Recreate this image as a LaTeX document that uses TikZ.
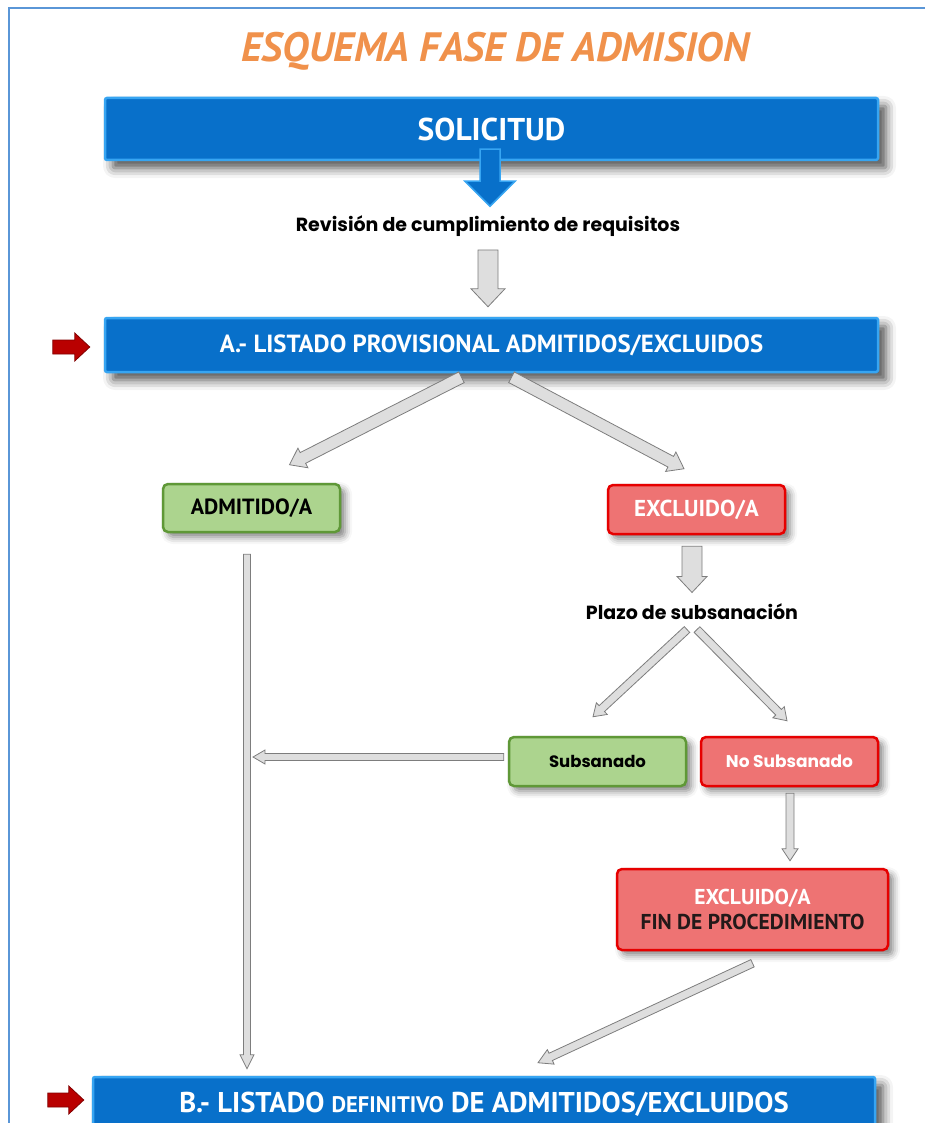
\documentclass[tikz,border=0pt]{standalone}
\usepackage{fontspec}
\setmainfont{PT Sans}
\newfontfamily\widefont{Poppins}
\usetikzlibrary{calc,shadows.blur}
\definecolor{boxblue}{RGB}{8,112,202}
\definecolor{boxblueedge}{RGB}{55,165,242}
\definecolor{grnfill}{RGB}{172,212,142}
\definecolor{grnedge}{RGB}{95,152,55}
\definecolor{redfill}{RGB}{238,115,115}
\definecolor{rededge}{RGB}{230,0,0}
\definecolor{arrfill}{RGB}{222,222,222}
\definecolor{arredge}{RGB}{125,125,125}
\definecolor{ttlorange}{RGB}{240,145,75}
\definecolor{frameblue}{RGB}{90,150,215}
\definecolor{darkred}{RGB}{185,0,0}
\definecolor{findark}{RGB}{35,25,25}
\newcommand\blockarrow[6]{%
  \coordinate (bah) at ($(#3)!#6!(#2)$);
  \draw[#1] ($(#2)!#4!90:(#3)$) -- ($(bah)!#4!90:(#3)$) -- ($(bah)!#5!90:(#3)$) -- (#3)
    -- ($(bah)!#5!-90:(#3)$) -- ($(bah)!#4!-90:(#3)$) -- ($(#2)!#4!-90:(#3)$) -- cycle;}
\begin{document}
\begin{tikzpicture}[x=1pt,y=-1pt,
  bluebox/.style={draw=boxblueedge, line width=2.5pt, fill=boxblue, rounded corners=2pt,
    text=white, blur shadow={shadow xshift=8pt, shadow yshift=-8pt, shadow blur radius=10pt, shadow opacity=70}},
  grnbox/.style={draw=grnedge, line width=2.5pt, fill=grnfill, rounded corners=5pt,
    text=black, minimum width=177pt, minimum height=48pt,
    blur shadow={shadow xshift=5pt, shadow yshift=-5pt, shadow blur radius=7pt, shadow opacity=50}},
  redbox/.style={draw=rededge, line width=2.5pt, fill=redfill, rounded corners=5pt,
    text=white, minimum width=177pt, minimum height=49pt,
    blur shadow={shadow xshift=5pt, shadow yshift=-5pt, shadow blur radius=7pt, shadow opacity=50}},
  plain/.style={font=\widefont\bfseries\fontsize{19}{19}\selectfont, text=black},
  grayarr/.style={fill=arrfill, draw=arredge, line width=0.8pt, line join=miter},
  bluearr/.style={fill=boxblue, draw=boxblueedge, line width=1.5pt, line join=miter},
  redarr/.style={fill=darkred, draw=darkred!70!black, line width=0.8pt, line join=miter}]
\useasboundingbox (0,0) rectangle (925,1123);
\draw[frameblue, line width=1.2pt] (9,1123) -- (9,8) -- (925,8);

\node[font=\bfseries\itshape\fontsize{41}{41}\selectfont, text=ttlorange] (title) at (495,51) {ESQUEMA FASE DE ADMISION};

\node[bluebox, minimum width=773pt, minimum height=62pt, font=\bfseries\fontsize{31.5}{31.5}\selectfont] (sol) at (491.5,129) {SOLICITUD};
\node[plain] (rev) at (488,226) {Revisión de cumplimiento de requisitos};
\node[bluebox, minimum width=773pt, minimum height=54pt, font=\bfseries\fontsize{24.8}{24.8}\selectfont] (lpa) at (491.5,345) {A.- LISTADO PROVISIONAL ADMITIDOS/EXCLUIDOS};
\node[grnbox, font=\bfseries\fontsize{22}{22}\selectfont] (adm) at (251.5,508) {ADMITIDO/A};
\node[redbox, font=\bfseries\fontsize{23}{23}\selectfont] (exc) at (696.5,509.5) {EXCLUIDO/A};
\node[plain] (plz) at (692,612) {Plazo de subsanación};
\node[grnbox, minimum height=49pt, font=\widefont\bfseries\fontsize{16.5}{16.5}\selectfont] (sub) at (597.5,761.5) {Subsanado};
\node[redbox, font=\widefont\bfseries\fontsize{17}{17}\selectfont] (nos) at (789.5,761.5) {No Subsanado};
\node[redbox, minimum width=271pt, minimum height=81pt, align=center, font=\bfseries\fontsize{21.5}{25}\selectfont] (fin) at (752.5,909.5) {EXCLUIDO/A\\\textcolor{findark}{FIN DE PROCEDIMIENTO}};
\node[bluebox, minimum width=782pt, minimum height=54pt, font=\bfseries\fontsize{28.6}{28.6}\selectfont] (lpb) at (484,1104) {B.- LISTADO {\fontsize{22.5}{22.5}\selectfont DEFINITIVO} DE ADMITIDOS/EXCLUIDOS};

% connectors
\coordinate (b0s) at ($(sol.south)+(-1.5,-12)$);
\coordinate (b0e) at ($(sol.south)+(-1.5,45)$);
\blockarrow{bluearr}{b0s}{b0e}{10pt}{25pt}{25pt}
\coordinate (a1s) at ($(rev.south)+(0,10)$);
\coordinate (a1e) at ($(lpa.north)+(-3.5,-10)$);
\blockarrow{grayarr}{a1s}{a1e}{10pt}{17pt}{18pt}
\coordinate (d1s) at ($(lpa.south)+(-30,4)$);
\coordinate (d1e) at ($(adm.north)+(38,-18)$);
\blockarrow{grayarr}{d1s}{d1e}{6pt}{11pt}{15pt}
\coordinate (d2s) at ($(lpa.south)+(20,4)$);
\coordinate (d2e) at ($(exc.north)+(-12.5,-15)$);
\blockarrow{grayarr}{d2s}{d2e}{6pt}{11pt}{15pt}
\coordinate (e1s) at ($(exc.south)+(-4.5,11)$);
\coordinate (e1e) at ($(plz.north)+(0,-8)$);
\blockarrow{grayarr}{e1s}{e1e}{10pt}{15pt}{16pt}
\coordinate (p1s) at ($(plz.south)+(-5,6)$);
\coordinate (p1e) at ($(sub.north)+(-4.5,-19)$);
\blockarrow{grayarr}{p1s}{p1e}{4pt}{8pt}{12pt}
\coordinate (p2s) at ($(plz.south)+(5,6)$);
\coordinate (p2e) at ($(nos.north)+(-2.5,-15)$);
\blockarrow{grayarr}{p2s}{p2e}{4pt}{8pt}{12pt}
\coordinate (v1s) at ($(adm.south)+(-4.5,21)$);
\coordinate (v1e) at ($(v1s |- lpb.north)+(0,-7)$);
\blockarrow{grayarr}{v1s}{v1e}{3.5pt}{7pt}{14pt}
\coordinate (h1s) at ($(sub.west)+(-4,-4.5)$);
\coordinate (h1e) at ($(v1s |- h1s)+(6,0)$);
\blockarrow{grayarr}{h1s}{h1e}{3.5pt}{7pt}{12pt}
\coordinate (n1s) at ($(nos.south)+(0.5,6)$);
\coordinate (n1e) at ($(fin.north)+(37.5,-7)$);
\blockarrow{grayarr}{n1s}{n1e}{4pt}{8pt}{12pt}
\coordinate (f1s) at ($(fin.south)+(0,12)$);
\coordinate (f1e) at ($(lpb.north)+(54,-13)$);
\blockarrow{grayarr}{f1s}{f1e}{4pt}{8pt}{14pt}
\coordinate (r1s) at ($(lpa.west)+(-51,2)$);
\coordinate (r1e) at ($(lpa.west)+(-14,2)$);
\blockarrow{redarr}{r1s}{r1e}{7pt}{14pt}{15pt}
\coordinate (r2s) at ($(lpb.west)+(-44,-4)$);
\coordinate (r2e) at ($(lpb.west)+(-8,-4)$);
\blockarrow{redarr}{r2s}{r2e}{7pt}{14pt}{15pt}
\end{tikzpicture}
\end{document}
